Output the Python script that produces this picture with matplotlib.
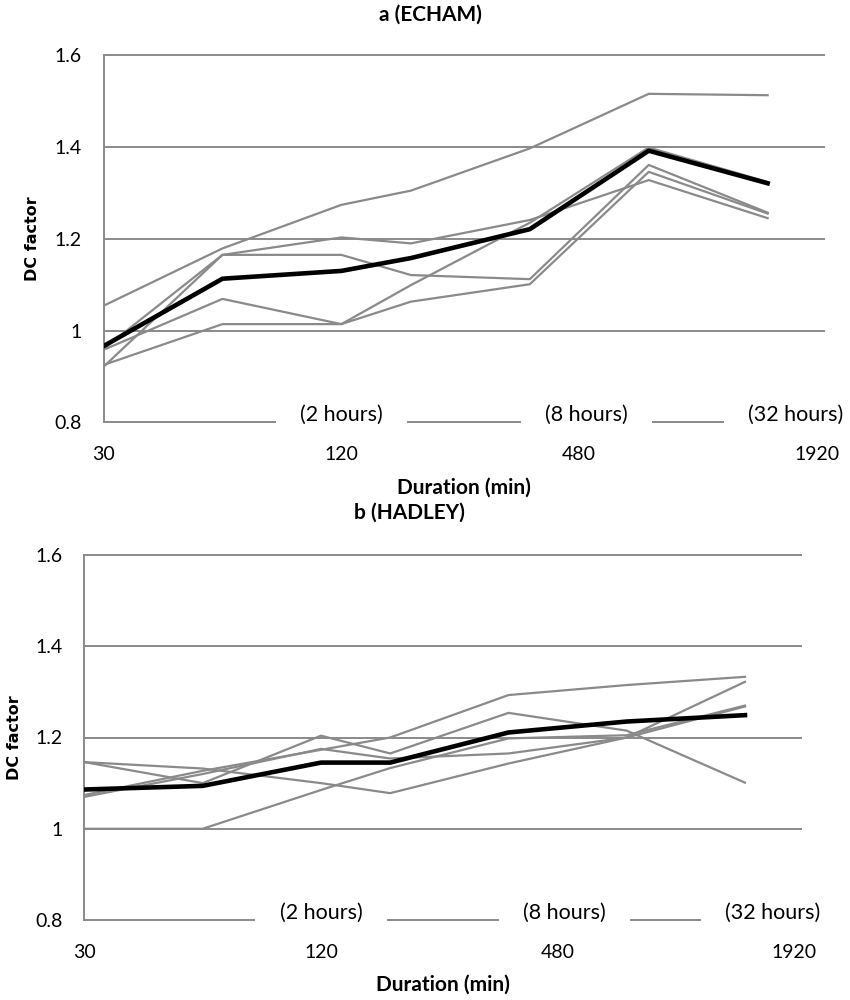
import numpy as np
import matplotlib
matplotlib.use("Agg")
import matplotlib.pyplot as plt

plt.rcParams['font.family'] = ['Lato', 'DejaVu Sans']

# durations (min)
duration = [30, 60, 120, 180, 360, 720, 1440]
tick_values = [30, 120, 480, 1920]
tick_labels = ["30", "120", "480", "1920"]
ytick_values = [0.8, 1.0, 1.2, 1.4, 1.6]
ytick_labels = ["0.8", "1", "1.2", "1.4", "1.6"]
hour_labels = ["(2 hours)", "(8 hours)", "(32 hours)"]
hour_pos = [120, 480, 1920]

# a (ECHAM) - individual runs and mean
echam_runs = [
    [1.054, 1.179, 1.274, 1.305, 1.397, 1.516, 1.513],
    [0.960, 1.165, 1.203, 1.190, 1.241, 1.328, 1.245],
    [0.921, 1.165, 1.165, 1.121, 1.112, 1.361, 1.257],
    [0.958, 1.069, 1.014, 1.099, 1.235, 1.399, 1.324],
    [0.925, 1.014, 1.014, 1.063, 1.101, 1.346, 1.255],
]
echam_mean = [0.966, 1.113, 1.130, 1.158, 1.221, 1.392, 1.321]

# b (HADLEY)
hadley_runs = [
    [1.146, 1.132, 1.100, 1.078, 1.143, 1.200, 1.322],
    [1.146, 1.100, 1.204, 1.165, 1.254, 1.215, 1.101],
    [1.074, 1.127, 1.173, 1.200, 1.293, 1.315, 1.333],
    [1.000, 1.000, 1.085, 1.133, 1.198, 1.205, 1.270],
    [1.070, 1.120, 1.175, 1.154, 1.165, 1.200, 1.268],
]
hadley_mean = [1.086, 1.094, 1.145, 1.145, 1.211, 1.235, 1.249]

grey = '#8a8a8a'


def draw_panel(ax, runs, mean):
    for r in runs:
        ax.plot(duration, r, color=grey, linewidth=1.6, zorder=3)
    ax.plot(duration, mean, color='black', linewidth=3.3, zorder=4)

    ax.set_xscale('log', base=2)
    ax.set_xlim(30, 2000)
    ax.set_ylim(0.8, 1.6)
    ax.set_xticks(tick_values)
    ax.set_xticklabels(tick_labels)
    ax.minorticks_off()
    ax.set_yticks(ytick_values)
    ax.set_yticklabels(ytick_labels)
    ax.tick_params(axis='x', length=0, pad=17, labelsize=14)
    ax.tick_params(axis='y', length=0, pad=16, labelsize=14)

    ax.grid(axis='y', color=grey, linewidth=1.4)
    for line in ax.get_ygridlines():
        line.set_clip_on(False)
    for s in ['top', 'right', 'bottom']:
        ax.spines[s].set_visible(False)
    ax.spines['left'].set_color(grey)
    ax.spines['left'].set_linewidth(1.4)

    # duration in hours, written over the bottom gridline
    box = dict(boxstyle='square,pad=0.1', fc='white', ec='none')
    ax.annotate("    " + hour_labels[0] + "    ", xy=(hour_pos[0], 0.8), xytext=(0, 5),
                textcoords='offset points', ha='center', va='center', fontsize=15.5,
                annotation_clip=False, zorder=5, bbox=box)
    ax.annotate("    " + hour_labels[1] + "    ", xy=(hour_pos[1], 0.8), xytext=(5, 5),
                textcoords='offset points', ha='center', va='center', fontsize=15.5,
                annotation_clip=False, zorder=5, bbox=box)
    ax.annotate("    " + hour_labels[2], xy=(hour_pos[2], 0.8), xytext=(19, 5),
                textcoords='offset points', ha='right', va='center', fontsize=15.5,
                annotation_clip=False, zorder=5, bbox=box)

    ax.set_ylabel("DC factor", family='DejaVu Sans', fontweight='bold', fontsize=11.5)
    ax.yaxis.set_label_coords(-0.098, 0.5)
    ax.yaxis.label.set_va('center')
    ax.set_xlabel("Duration (min)", fontweight='bold', fontsize=15)
    ax.xaxis.set_label_coords(0.5, -0.177)
    ax.xaxis.label.set_va('center')


fig = plt.figure(figsize=(8.5, 10), dpi=100)

ax1 = fig.add_axes([0.1218, 0.5777, 0.8476, 0.367])
draw_panel(ax1, echam_runs, echam_mean)
fig.text(0.506, 0.985, "a (ECHAM)", ha='center', va='center', fontweight='bold', fontsize=15)

ax2 = fig.add_axes([0.0994, 0.080, 0.8430, 0.365])
draw_panel(ax2, hadley_runs, hadley_mean)
fig.text(0.482, 0.487, "b (HADLEY)", ha='center', va='center', fontweight='bold', fontsize=15)

plt.savefig("out.png", dpi=100)
